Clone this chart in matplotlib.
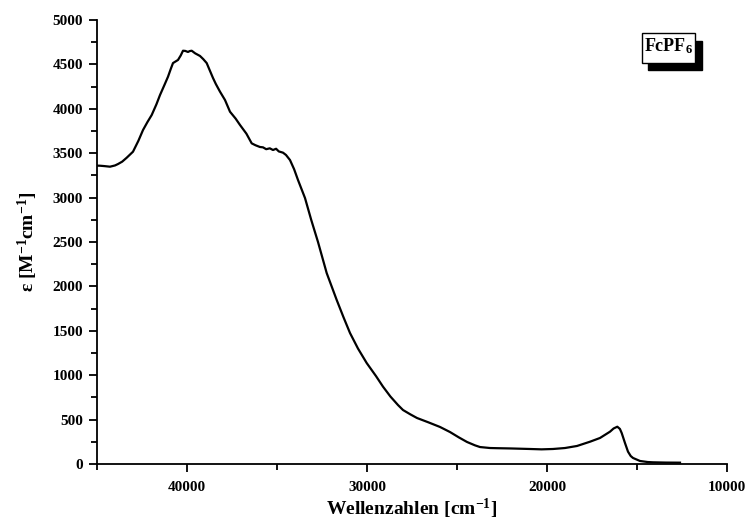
import matplotlib
matplotlib.use("Agg")
import matplotlib.pyplot as plt
from matplotlib.patches import Rectangle
from matplotlib.ticker import MultipleLocator

plt.rcParams['font.family'] = ['Liberation Serif', 'DejaVu Serif']
plt.rcParams['font.weight'] = 'bold'
plt.rcParams['mathtext.fontset'] = 'custom'
plt.rcParams['mathtext.rm'] = 'Liberation Serif:bold'
plt.rcParams['mathtext.it'] = 'Liberation Serif:bold'
plt.rcParams['mathtext.bf'] = 'Liberation Serif:bold'

# UV/Vis spectrum (wavenumber in cm^-1, epsilon in M^-1 cm^-1)
wavenumber = [45000, 44833, 44600, 44278, 44000, 43833, 43600, 43350, 43000,
              42700, 42444, 42200, 41961, 41700, 41500, 41250, 41056, 40900,
              40778, 40500, 40350, 40222, 40100, 39944, 39850, 39739, 39550,
              39278, 39100, 38906, 38750, 38556, 38400, 38167, 37889, 37611,
              37300, 37056, 36700, 36406, 36200, 35950, 35778, 35600, 35400,
              35222, 35050, 34900, 34667, 34500, 34278, 34050, 33833, 33444,
              33100, 32722, 32239, 31683, 31300, 30944, 30500, 30017, 29500,
              29111, 28700, 28278, 28000, 27600, 27222, 26600, 25944, 25389,
              24900, 24444, 24000, 23722, 23167, 22778, 22000, 20944, 20300,
              19667, 19000, 18333, 17611, 17056, 16500, 16300, 16094, 15950,
              15850, 15667, 15500, 15350, 15222, 14833, 14400, 14111, 13400,
              12611]
epsilon = [3360, 3359, 3355, 3348, 3362, 3378, 3405, 3449, 3517,
           3640, 3761, 3850, 3930, 4050, 4155, 4270, 4361, 4450,
           4515, 4550, 4600, 4654, 4652, 4640, 4650, 4654, 4625,
           4595, 4560, 4515, 4440, 4347, 4280, 4193, 4099, 3967,
           3890, 3818, 3720, 3611, 3590, 3570, 3566, 3545, 3555,
           3536, 3550, 3520, 3506, 3480, 3423, 3320, 3198, 2995,
           2750, 2500, 2150, 1847, 1650, 1475, 1300, 1137, 990,
           871, 760, 664, 608, 560, 518, 470, 417, 360,
           300, 248, 210, 191, 180, 178, 175, 169, 165,
           169, 180, 203, 251, 293, 364, 400, 420, 395,
           349, 236, 139, 90, 68, 34, 22, 19, 16,
           15]

x_ticks = [40000, 30000, 20000, 10000]
y_ticks = [0, 500, 1000, 1500, 2000, 2500, 3000, 3500, 4000, 4500, 5000]

fig = plt.figure(figsize=(7.46, 5.24), dpi=100)
ax = fig.add_axes([97 / 746, 60 / 524, 630 / 746, 444 / 524])

ax.plot(wavenumber, epsilon, color='black', lw=1.6)

ax.set_xlim(45000, 10000)
ax.set_ylim(0, 5000)
ax.set_xticks(x_ticks)
ax.set_yticks(y_ticks)
ax.xaxis.set_minor_locator(MultipleLocator(5000))
ax.yaxis.set_minor_locator(MultipleLocator(250))

for side in ['top', 'right']:
    ax.spines[side].set_visible(False)
for side in ['bottom', 'left']:
    ax.spines[side].set_linewidth(1.3)

ax.tick_params(which='major', direction='out', length=6, width=1.3,
               labelsize=11)
ax.tick_params(which='minor', direction='out', length=4, width=1.3)
ax.tick_params(axis='x', which='major', pad=6)
ax.tick_params(axis='y', which='major', pad=4)
for lab in ax.get_xticklabels() + ax.get_yticklabels():
    lab.set_fontweight('bold')

ax.set_xlabel('Wellenzahlen [cm$^{-1}$]', fontsize=14, fontweight='bold',
              labelpad=2)
ax.set_ylabel('ε [M$^{-1}$cm$^{-1}$]', fontsize=14, fontweight='bold',
              labelpad=9)

# sample label with shadow box
bx, by, bw, bh = 0.8646, 0.9038, 0.0846, 0.0662
ax.add_patch(Rectangle((bx + 0.0106, by - 0.0165), bw, bh, transform=ax.transAxes,
                       facecolor='black', edgecolor='black', clip_on=False))
ax.add_patch(Rectangle((bx, by), bw, bh, transform=ax.transAxes,
                       facecolor='white', edgecolor='black', lw=1.0,
                       clip_on=False, zorder=3))
ax.text(bx + bw / 2, by + bh / 2 + 0.004, 'FcPF$_{6}$', transform=ax.transAxes,
        ha='center', va='center', fontsize=13, fontweight='bold', zorder=4)

fig.savefig('out.png', dpi=100)
